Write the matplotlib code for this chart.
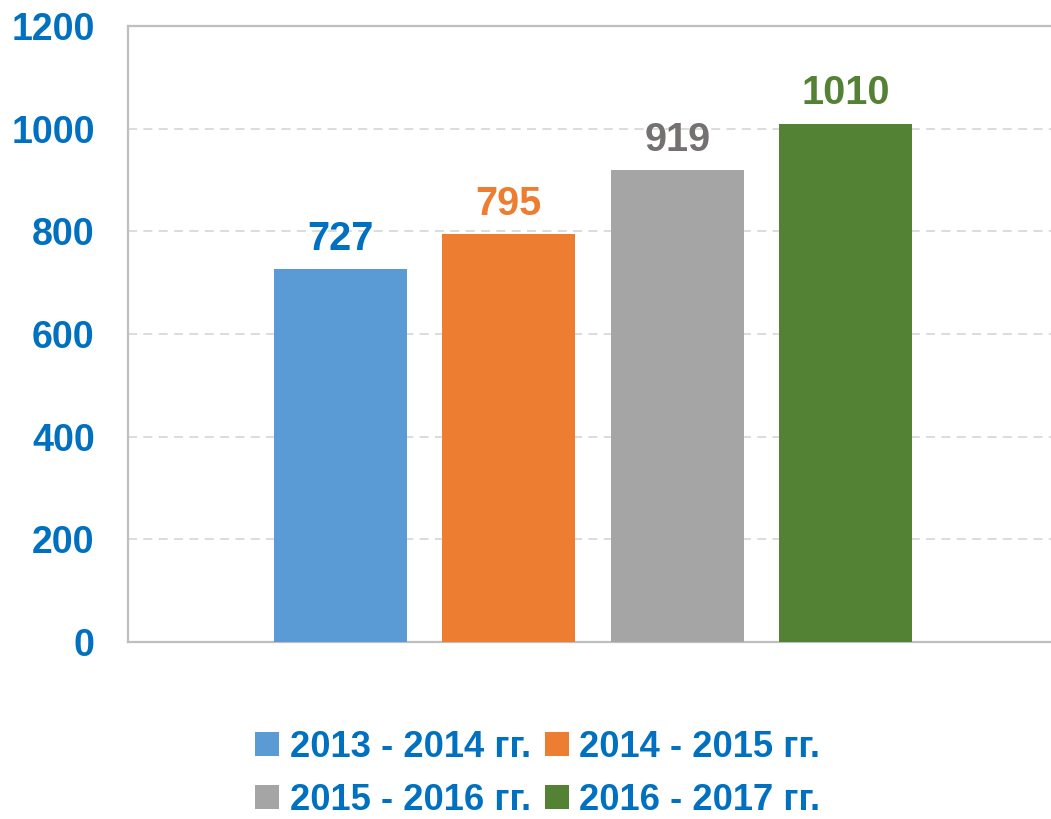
import matplotlib
matplotlib.use("Agg")
import matplotlib.pyplot as plt
from matplotlib.patches import Patch

# data
periods = ["2013 - 2014 гг.", "2014 - 2015 гг.", "2015 - 2016 гг.", "2016 - 2017 гг."]
values = [727, 795, 919, 1010]
bar_colors = ["#5B9BD5", "#ED7D31", "#A5A5A5", "#548235"]
label_colors = ["#0070C0", "#ED7D31", "#767171", "#548235"]
y_ticks = [0, 200, 400, 600, 800, 1000, 1200]

BLUE = "#0070C0"
plt.rcParams["font.family"] = ["Liberation Sans", "DejaVu Sans"]

fig = plt.figure(figsize=(10.51, 8.19), dpi=100)
ax = fig.add_axes([128 / 1051, 177 / 819, 1 - 128 / 1051 + 0.002, 616 / 819])

x = list(range(len(values)))
ax.bar(x, values, width=0.79, color=bar_colors, zorder=3)

for xi, v, c in zip(x, values, label_colors):
    ax.annotate(str(v), (xi, v), textcoords="offset points", xytext=(0, 8),
                ha="center", va="bottom", fontsize=28.5, fontweight="bold",
                color=c, family=["Liberation Sans Narrow", "Liberation Sans"])

ax.set_xlim(-1.26, 4.23)
ax.set_ylim(0, 1200)
ax.set_yticks(y_ticks)
ax.set_xticks([])
ax.tick_params(axis="y", length=0, pad=24, labelsize=27, labelcolor=BLUE)
for lbl in ax.get_yticklabels():
    lbl.set_fontweight("bold")

ax.yaxis.grid(True, color="#D9D9D9", linestyle=(0, (5, 3.5)), linewidth=1.3, zorder=0)
for side in ["left", "bottom", "top"]:
    ax.spines[side].set_color("#BFBFBF")
    ax.spines[side].set_linewidth(1.6)
ax.spines["right"].set_visible(False)

# legend fills column-wise, so reorder to read row by row
handles = [Patch(facecolor=c, edgecolor="none") for c in bar_colors]
order = [0, 2, 1, 3]
fig.legend([handles[i] for i in order], [periods[i] for i in order], ncol=2,
           loc="center", bbox_to_anchor=(538 / 1051, 45 / 819), frameon=False,
           prop={"weight": "bold", "size": 26.2}, labelcolor=BLUE,
           handlelength=0.65, handleheight=0.65, handletextpad=0.3,
           columnspacing=0.38, labelspacing=0.5, borderpad=0.2)

fig.savefig("out.png", dpi=100)
